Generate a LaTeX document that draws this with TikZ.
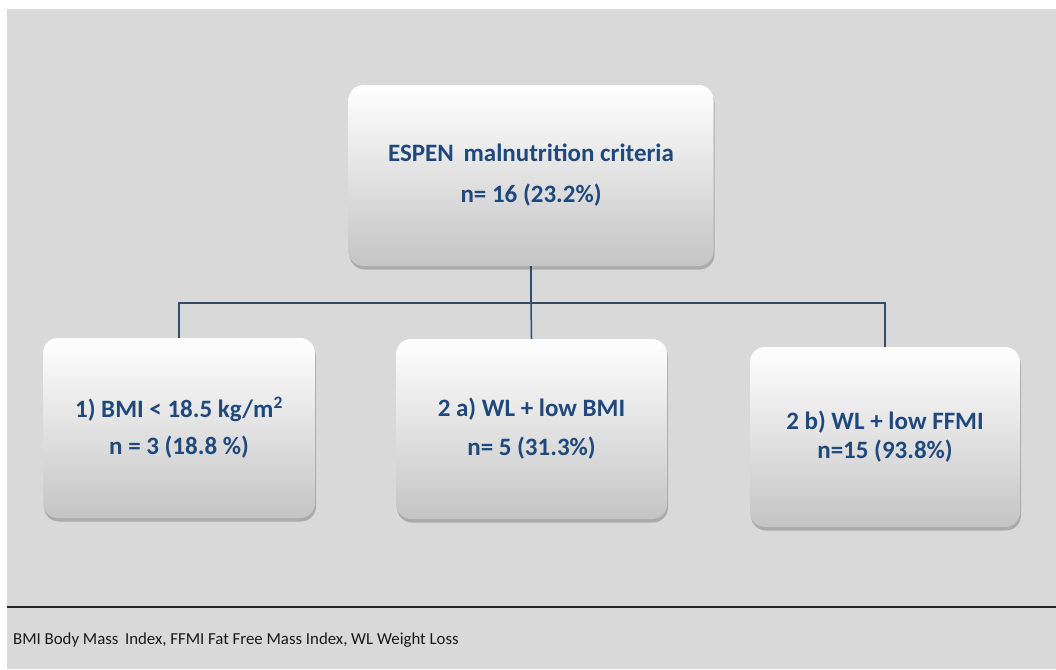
\documentclass[tikz,border=0pt]{standalone}
\usepackage{fontspec}
\setmainfont{Carlito}
\usetikzlibrary{shadows}
\definecolor{bg}{HTML}{D9D9D9}
\definecolor{txt}{HTML}{1F497D}
\definecolor{connc}{HTML}{2F4B6E}
\begin{document}
\begin{tikzpicture}[x=1pt,y=-1pt,
  boxstyle/.style={rounded corners=15pt, top color=white, middle color=black!6, bottom color=black!23, draw=none,
    drop shadow={shadow xshift=1pt, shadow yshift=-3.5pt, opacity=0.4, fill=black!60},
    text=txt, font=\fontsize{25}{30}\selectfont\bfseries, align=center, inner sep=0pt},
  connline/.style={draw=connc, line width=1.5pt}]
\useasboundingbox (0,0) rectangle (1056,669);
\fill[bg] (7,9) rectangle (1056,669);
\node[boxstyle, minimum width=365pt, minimum height=181pt] (top) at (531,175.5)
  {ESPEN\, malnutrition criteria\\[11pt] n= 16 (23.2\%)};
\node[boxstyle, minimum width=272pt, minimum height=180pt] (b1) at (179,428)
  {1) BMI < 18.5 kg/m\textsuperscript{2}\\[7pt] n = 3 (18.8 \%)};
\node[boxstyle, minimum width=271pt, minimum height=180pt] (b2) at (531.5,429)
  {2 a) WL + low BMI\\[9pt] n= 5 (31.3\%)};
\node[boxstyle, minimum width=270pt, minimum height=180pt] (b3) at (885,437)
  {2 b) WL + low FFMI\\[-1pt] n=15 (93.8\%)};
\coordinate (junction) at (531,303);
\draw[connline] (top.south) -- (junction);
\draw[connline] (b1.north) |- (junction) -| (b3.north);
\draw[connline] (junction) -- (b2.north);
\coordinate (ruleL) at (7,607);
\coordinate (ruleR) at (1056,607);
\draw[line width=1.5pt, black!85] (ruleL) -- (ruleR);
\node[anchor=west, inner sep=0pt, font=\fontsize{16.8}{20}\selectfont, text=black!90] (foot) at (13,640)
  {BMI Body Mass\, Index, FFMI Fat Free Mass Index, WL Weight Loss};
\end{tikzpicture}
\end{document}
